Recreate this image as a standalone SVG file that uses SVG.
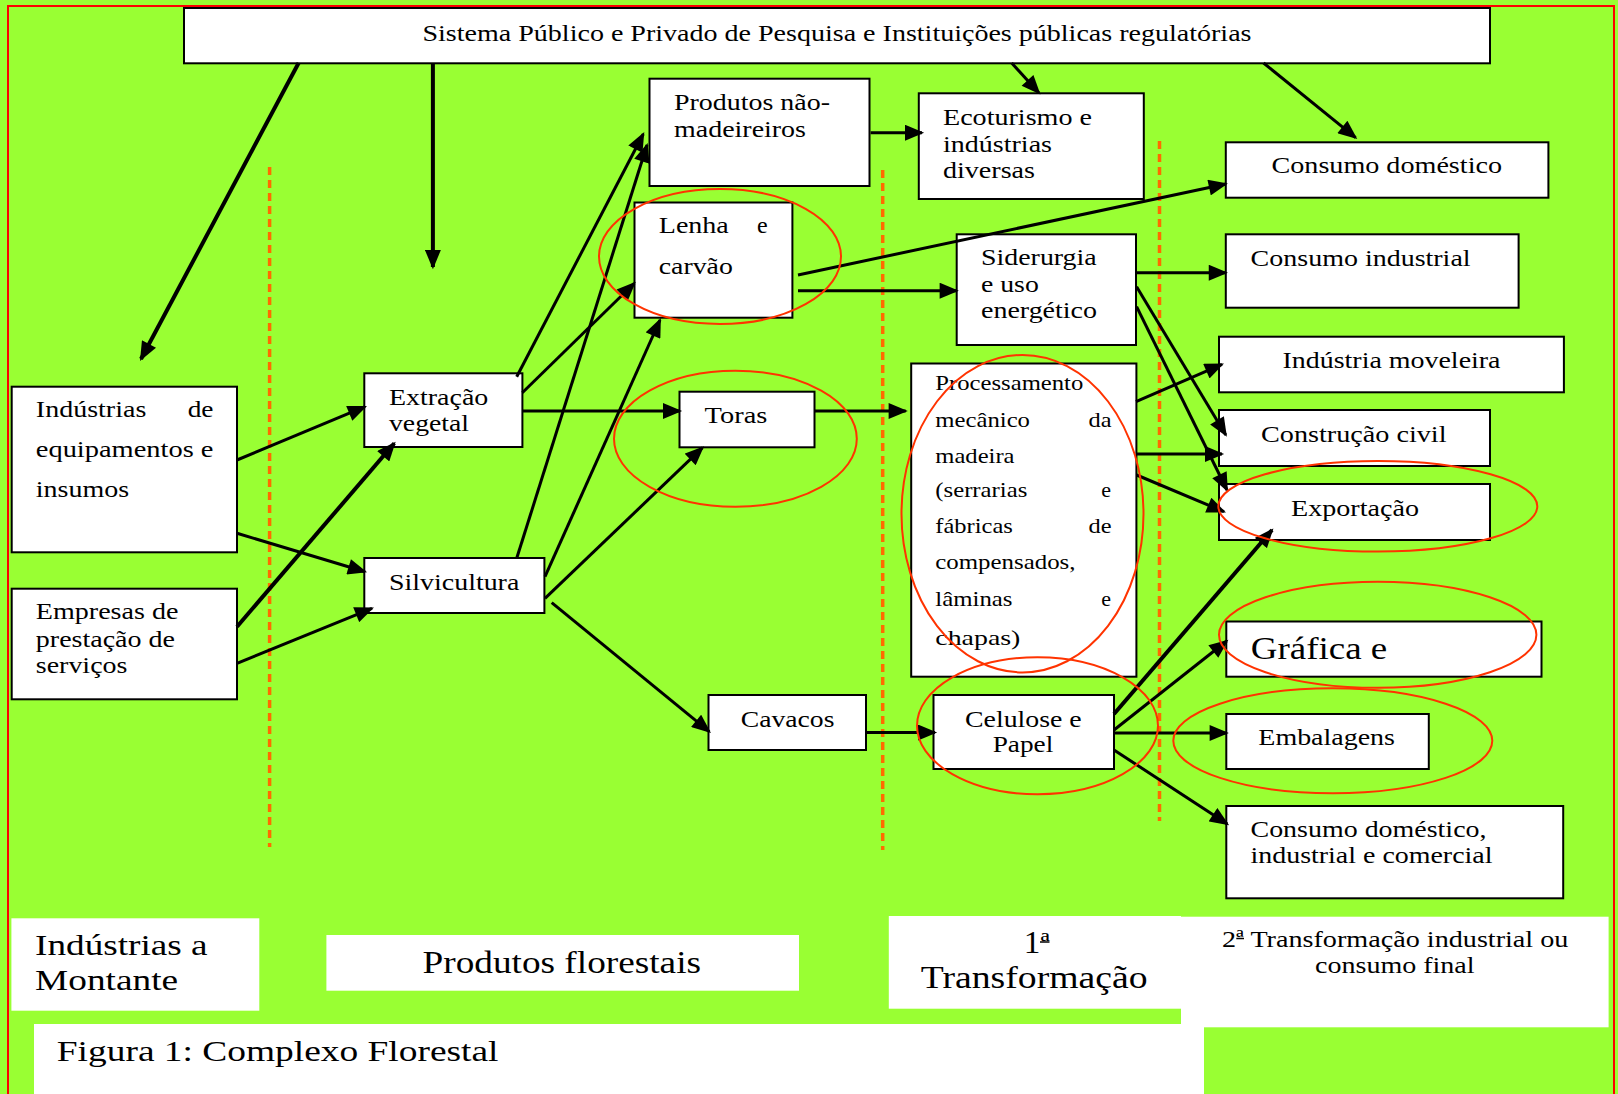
<svg xmlns="http://www.w3.org/2000/svg" width="1618" height="1094" viewBox="0 0 1618 1094">
<style>
.bx{fill:#fff;stroke:#000;stroke-width:2}
.lb{fill:#fff;stroke:none}
text{font-family:"Liberation Serif","Times New Roman",serif;fill:#000;font-size:24px}
.p{font-size:22px}
.big{font-size:31px}
.c{stroke:#000;stroke-width:3;fill:none;marker-end:url(#ah)}
.t{stroke-width:4}
.hl{fill:none;stroke:#FF3300;stroke-width:2}
.dl{stroke:#FF6A00;stroke-width:3.5;stroke-dasharray:8 5;fill:none}
.ul{stroke:#000;stroke-width:1.5}
</style>
<defs>
<marker id="ah" markerUnits="userSpaceOnUse" markerWidth="20" markerHeight="16" viewBox="0 0 18 15" refX="16" refY="7.5" orient="auto">
<path d="M0,0 L18,7.5 L0,15 z" fill="#000"/>
</marker>
</defs>
<rect x="0" y="0" width="1618" height="1094" fill="#99FF33"/>
<rect x="8" y="6" width="1606" height="1110" fill="none" stroke="#FF0000" stroke-width="2"/>
<g id="dividers">
<line class="dl" x1="269.6" y1="167" x2="269.6" y2="847"/>
<line class="dl" x1="882.7" y1="170" x2="882.7" y2="850"/>
<line class="dl" x1="1159.5" y1="141" x2="1159.5" y2="821"/>
</g>
<g id="sistema"><rect class="bx" x="184" y="8" width="1306" height="55.3"/>
<text x="837" y="41" text-anchor="middle" textLength="829" lengthAdjust="spacingAndGlyphs">Sistema Público e Privado de Pesquisa e Instituições públicas regulatórias</text></g>
<g id="produtos-nao-madeireiros"><rect class="bx" x="649.5" y="78.7" width="220" height="107.3"/>
<text x="674" y="110" textLength="156" lengthAdjust="spacingAndGlyphs">Produtos não-</text>
<text x="674" y="137" textLength="132" lengthAdjust="spacingAndGlyphs">madeireiros</text></g>
<g id="ecoturismo"><rect class="bx" x="918.8" y="93.3" width="225" height="105.7"/>
<text x="943" y="125" textLength="149" lengthAdjust="spacingAndGlyphs">Ecoturismo e</text>
<text x="943" y="151.7" textLength="109" lengthAdjust="spacingAndGlyphs">indústrias</text>
<text x="943" y="178" textLength="92" lengthAdjust="spacingAndGlyphs">diversas</text></g>
<g id="consumo-domestico"><rect class="bx" x="1225.8" y="142.3" width="322.6" height="55.4"/>
<text x="1271.5" y="173" textLength="230.5" lengthAdjust="spacingAndGlyphs">Consumo doméstico</text></g>
<g id="lenha-carvao"><rect class="bx" x="634.5" y="202.5" width="157.9" height="115.2"/>
<text x="658.8" y="233" textLength="70" lengthAdjust="spacingAndGlyphs">Lenha</text>
<text x="757" y="233">e</text>
<text x="658.8" y="274" textLength="74" lengthAdjust="spacingAndGlyphs">carvão</text></g>
<g id="siderurgia"><rect class="bx" x="956.7" y="234.3" width="179.3" height="110.7"/>
<text x="981" y="265" textLength="115.7" lengthAdjust="spacingAndGlyphs">Siderurgia</text>
<text x="981" y="291.7" textLength="57.8" lengthAdjust="spacingAndGlyphs">e uso</text>
<text x="981" y="318" textLength="116" lengthAdjust="spacingAndGlyphs">energético</text></g>
<g id="consumo-industrial"><rect class="bx" x="1225.8" y="234.3" width="292.8" height="73.4"/>
<text x="1250.6" y="266" textLength="220" lengthAdjust="spacingAndGlyphs">Consumo industrial</text></g>
<g id="industria-moveleira"><rect class="bx" x="1219" y="336.7" width="344.9" height="55.6"/>
<text x="1282.5" y="368.3" textLength="218" lengthAdjust="spacingAndGlyphs">Indústria moveleira</text></g>
<g id="industrias-equipamentos"><rect class="bx" x="11.7" y="386.7" width="225.3" height="165.6"/>
<text x="35.8" y="416.7" textLength="110.5" lengthAdjust="spacingAndGlyphs">Indústrias</text>
<text x="187.7" y="416.7" textLength="25.8" lengthAdjust="spacingAndGlyphs">de</text>
<text x="35.8" y="456.7" textLength="177.7" lengthAdjust="spacingAndGlyphs">equipamentos e</text>
<text x="35.8" y="497.3" textLength="93.3" lengthAdjust="spacingAndGlyphs">insumos</text></g>
<g id="empresas-servicos"><rect class="bx" x="11.7" y="588.7" width="225.3" height="110.6"/>
<text x="35.8" y="619.3" textLength="142.6" lengthAdjust="spacingAndGlyphs">Empresas de</text>
<text x="35.8" y="646.7" textLength="139.2" lengthAdjust="spacingAndGlyphs">prestação de</text>
<text x="35.8" y="673.3" textLength="91.6" lengthAdjust="spacingAndGlyphs">serviços</text></g>
<g id="extracao-vegetal"><rect class="bx" x="364.3" y="373.3" width="158.1" height="73.7"/>
<text x="389" y="405" textLength="99.3" lengthAdjust="spacingAndGlyphs">Extração</text>
<text x="389" y="430.7" textLength="80" lengthAdjust="spacingAndGlyphs">vegetal</text></g>
<g id="silvicultura"><rect class="bx" x="364.3" y="558" width="180.1" height="55"/>
<text x="389" y="590" textLength="130.3" lengthAdjust="spacingAndGlyphs">Silvicultura</text></g>
<g id="toras"><rect class="bx" x="679.5" y="391.7" width="135" height="55.6"/>
<text x="704.6" y="423.3" textLength="62.7" lengthAdjust="spacingAndGlyphs">Toras</text></g>
<g id="processamento-mecanico"><rect class="bx" x="911.2" y="363.5" width="225.2" height="313.2"/>
<text class="p" x="935.3" y="390" textLength="148" lengthAdjust="spacingAndGlyphs">Processamento</text>
<text class="p" x="935.3" y="427" textLength="94.7" lengthAdjust="spacingAndGlyphs">mecânico</text>
<text class="p" x="1088.6" y="427" textLength="23" lengthAdjust="spacingAndGlyphs">da</text>
<text class="p" x="935.3" y="462.7" textLength="79.2" lengthAdjust="spacingAndGlyphs">madeira</text>
<text class="p" x="935.3" y="497.3" textLength="92" lengthAdjust="spacingAndGlyphs">(serrarias</text>
<text class="p" x="1101.3" y="497.3">e</text>
<text class="p" x="935.3" y="533.3" textLength="77.5" lengthAdjust="spacingAndGlyphs">fábricas</text>
<text class="p" x="1088.6" y="533.3" textLength="23" lengthAdjust="spacingAndGlyphs">de</text>
<text class="p" x="935.3" y="568.7" textLength="140.2" lengthAdjust="spacingAndGlyphs">compensados,</text>
<text class="p" x="935.3" y="606" textLength="77.2" lengthAdjust="spacingAndGlyphs">lâminas</text>
<text class="p" x="1101.3" y="606">e</text>
<text class="p" x="935.3" y="645" textLength="85.1" lengthAdjust="spacingAndGlyphs">chapas)</text></g>
<g id="construcao-civil"><rect class="bx" x="1219" y="410" width="271" height="56"/>
<text x="1261" y="441.7" textLength="185.5" lengthAdjust="spacingAndGlyphs">Construção civil</text></g>
<g id="exportacao"><rect class="bx" x="1219" y="484" width="271" height="56"/>
<text x="1291" y="516" textLength="128" lengthAdjust="spacingAndGlyphs">Exportação</text></g>
<g id="grafica"><rect class="bx" x="1226.3" y="621.5" width="315.2" height="55.2"/>
<text x="1250.7" y="659.3" style="font-size:32px" textLength="136.6" lengthAdjust="spacingAndGlyphs">Gráfica e</text></g>
<g id="cavacos"><rect class="bx" x="708.5" y="695" width="157.5" height="55"/>
<text x="740.8" y="726.7" textLength="93.6" lengthAdjust="spacingAndGlyphs">Cavacos</text></g>
<g id="celulose-papel"><rect class="bx" x="933.5" y="695" width="180.5" height="74"/>
<text x="965" y="726.7" textLength="116.7" lengthAdjust="spacingAndGlyphs">Celulose e</text>
<text x="992.7" y="752.3" textLength="60.6" lengthAdjust="spacingAndGlyphs">Papel</text></g>
<g id="embalagens"><rect class="bx" x="1226.3" y="714" width="202.5" height="55"/>
<text x="1258.3" y="745" textLength="136.7" lengthAdjust="spacingAndGlyphs">Embalagens</text></g>
<g id="consumo-dom-ind-com"><rect class="bx" x="1226.3" y="806" width="336.9" height="92.3"/>
<text x="1250.5" y="836.7" textLength="236" lengthAdjust="spacingAndGlyphs">Consumo doméstico,</text>
<text x="1250.5" y="863.3" textLength="242" lengthAdjust="spacingAndGlyphs">industrial e comercial</text></g>
<g id="label-montante"><rect class="lb" x="11.4" y="918.3" width="247.9" height="92.4"/>
<text style="font-size:30px" x="35.1" y="955" textLength="172.5" lengthAdjust="spacingAndGlyphs">Indústrias a</text>
<text style="font-size:30px" x="35.1" y="990" textLength="143" lengthAdjust="spacingAndGlyphs">Montante</text></g>
<g id="label-produtos-florestais"><rect class="lb" x="326.4" y="935" width="472.6" height="55.7"/>
<text class="big" x="422.5" y="972.7" textLength="278.5" lengthAdjust="spacingAndGlyphs">Produtos florestais</text></g>
<g id="label-primeira"><rect class="lb" x="888.8" y="916" width="292.2" height="92.7"/>
<text class="big" x="1023.8" y="953.3" textLength="25.8" lengthAdjust="spacingAndGlyphs">1ª</text>
<line class="ul" x1="1040" y1="942" x2="1049.5" y2="942"/>
<text class="big" x="920.8" y="988.3" textLength="226.7" lengthAdjust="spacingAndGlyphs">Transformação</text></g>
<g id="label-segunda"><rect class="lb" x="1181" y="916.7" width="427.6" height="110.6"/>
<text x="1222" y="946.7" textLength="346.4" lengthAdjust="spacingAndGlyphs">2ª Transformação industrial ou</text>
<line class="ul" x1="1236.3" y1="938.5" x2="1244" y2="938.5"/>
<text x="1315" y="973.3" textLength="159.6" lengthAdjust="spacingAndGlyphs">consumo final</text></g>
<g id="caption"><rect class="lb" x="34" y="1024" width="1170" height="75"/>
<text style="font-size:30px" x="56.8" y="1060.7" textLength="441.7" lengthAdjust="spacingAndGlyphs">Figura 1: Complexo Florestal</text></g>
<g id="connectors">
<line class="c t" x1="298.6" y1="63" x2="141" y2="359"/>
<line class="c t" x1="432.9" y1="63" x2="432.9" y2="267"/>
<line class="c" x1="1011.7" y1="63" x2="1039" y2="93"/>
<line class="c" x1="1263.6" y1="63" x2="1355.6" y2="137.7"/>
<line class="c" x1="870.6" y1="132.7" x2="922" y2="132.7"/>
<line class="c" x1="798" y1="275" x2="1225.8" y2="184"/>
<line class="c" x1="798" y1="290.7" x2="956.7" y2="290.7"/>
<line class="c" x1="1136" y1="272.7" x2="1225.8" y2="272.7"/>
<line class="c" x1="1136.6" y1="286.7" x2="1225.8" y2="435"/>
<line class="c" x1="1136.6" y1="306.7" x2="1227" y2="490"/>
<line class="c" x1="237" y1="460" x2="365" y2="406.7"/>
<line class="c" x1="237" y1="533.3" x2="365" y2="571.7"/>
<line class="c t" x1="237" y1="626.7" x2="394.3" y2="443.3"/>
<line class="c" x1="237" y1="663.3" x2="372" y2="608.3"/>
<line class="c" x1="516.7" y1="376.7" x2="643.3" y2="134"/>
<line class="c" x1="516.7" y1="558.3" x2="647" y2="145"/>
<line class="c" x1="522.3" y1="392.7" x2="634.3" y2="283.3"/>
<line class="c" x1="545" y1="576.7" x2="660" y2="320"/>
<line class="c" x1="522.3" y1="411" x2="680" y2="411"/>
<line class="c" x1="545" y1="598.3" x2="702.5" y2="447.7"/>
<line class="c" x1="551.7" y1="602.7" x2="709.3" y2="731.7"/>
<line class="c" x1="814.5" y1="411" x2="905.7" y2="411"/>
<line class="c" x1="866" y1="732.5" x2="935" y2="732.5"/>
<line class="c" x1="1136" y1="401.7" x2="1222" y2="364.3"/>
<line class="c" x1="1136" y1="454" x2="1222" y2="454"/>
<line class="c" x1="1136.6" y1="475" x2="1224" y2="511.7"/>
<line class="c t" x1="1114" y1="714" x2="1272" y2="530"/>
<line class="c" x1="1114" y1="730" x2="1226.7" y2="641"/>
<line class="c" x1="1114" y1="733" x2="1226.7" y2="733"/>
<line class="c" x1="1114" y1="750" x2="1227.3" y2="824"/>
</g>
<g id="highlights">
<ellipse class="hl" cx="720" cy="256.5" rx="121" ry="67.5"/>
<ellipse class="hl" cx="735.4" cy="438.7" rx="121.4" ry="68"/>
<ellipse class="hl" cx="1022.5" cy="513.7" rx="121" ry="158.7"/>
<ellipse class="hl" cx="1037.5" cy="725.7" rx="120.5" ry="68.5"/>
<ellipse class="hl" cx="1377.8" cy="506.3" rx="159.5" ry="45.3"/>
<ellipse class="hl" cx="1377.7" cy="634.8" rx="158.7" ry="53"/>
<ellipse class="hl" cx="1332.8" cy="740.8" rx="159.5" ry="52.5"/>
</g>
</svg>
